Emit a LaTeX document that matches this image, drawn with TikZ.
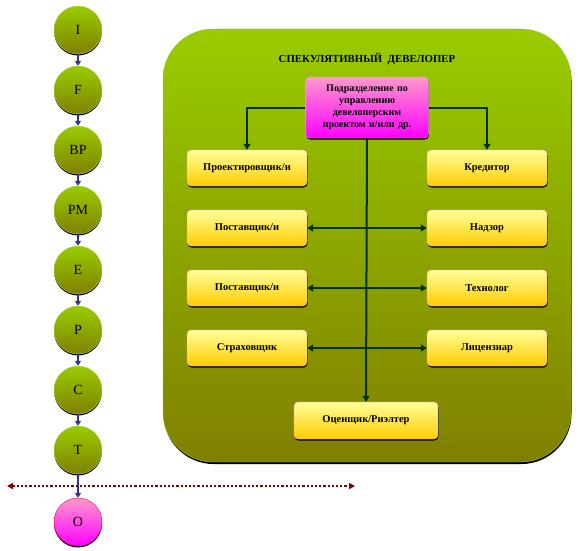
\documentclass[tikz,border=0pt]{standalone}
\usepackage{fontspec}
\setmainfont{Liberation Serif}
\usetikzlibrary{arrows.meta,shadows}
\definecolor{leaf}{HTML}{99CC00}
\definecolor{olive}{HTML}{808000}
\definecolor{rose}{HTML}{FF99CC}
\definecolor{lemon}{HTML}{FFFF99}
\definecolor{gold}{HTML}{FFCC00}
\definecolor{navyline}{HTML}{333380}
\definecolor{deepgreen}{HTML}{003300}
\definecolor{darkred}{HTML}{800000}
\tikzset{
	stage/.style={circle,minimum size=48pt,inner sep=0pt,draw=leaf!70!white,thin,
		top color=leaf,bottom color=olive,font=\fontsize{14}{16}\selectfont,
		drop shadow={shadow xshift=0pt,shadow yshift=-1.5pt,opacity=1,fill=black}},
	party/.style={rectangle,rounded corners=4pt,minimum width=120pt,minimum height=36pt,
		draw=rose,thin,top color=lemon,bottom color=gold,
		font=\fontsize{10.5}{12}\selectfont\bfseries,
		drop shadow={shadow xshift=0.5pt,shadow yshift=-1.5pt,opacity=1,fill=black}},
	stagelink/.style={navyline,line width=1.5pt,-{Triangle[length=5pt,width=6pt]}},
	link/.style={deepgreen,line width=2pt,-{Triangle[length=6pt,width=7pt]}},
	both/.style={deepgreen,line width=2pt,{Triangle[length=6pt,width=7pt]}-{Triangle[length=6pt,width=7pt]}},
}
\begin{document}
\begin{tikzpicture}[x=1pt,y=-1pt]
	\useasboundingbox (0,0) rectangle (581,551);
	% the developer's frame
	\draw[draw=leaf,thin,rounded corners=50pt,top color=leaf,bottom color=olive,
		drop shadow={shadow xshift=0.5pt,shadow yshift=-2pt,opacity=1,fill=black}]
		(163,29) rectangle (571,462);
	\node[font=\fontsize{10.8}{12}\selectfont\bfseries] (title) at (367,59) {СПЕКУЛЯТИВНЫЙ\ \ ДЕВЕЛОПЕР};
	\node[party,minimum width=120pt,minimum height=61pt,top color=rose,bottom color=magenta,
		text width=116pt,align=center,font=\fontsize{10}{12}\selectfont\bfseries] (dev) at (367,107.5)
		{Подразделение по\\управлению\\девелоперским\\проектом и/или др.};
	\node[party] (proj) at (247,168) {Проектировщик/и};
	\node[party] (sup1) at (247,228) {Поставщик/и};
	\node[party] (sup2) at (247,288) {Поставщик/и};
	\node[party] (insur) at (247,348) {Страховщик};
	\node[party] (cred) at (487,168) {Кредитор};
	\node[party] (audit) at (487,228) {Надзор};
	\node[party] (tech) at (487,288) {Технолог};
	\node[party] (licen) at (487,348) {Лицензиар};
	\node[party,minimum width=144pt,minimum height=37pt] (eval) at (366,420.5) {Оценщик/Риэлтер};
	\draw[link] (dev.west) -| (proj.north);
	\draw[link] (dev.east) -| (cred.north);
	\draw[link] (dev.south) -- (eval.north);
	\draw[both] (sup1.east) -- (audit.west);
	\draw[both] (sup2.east) -- (tech.west);
	\draw[both] (insur.east) -- (licen.west);
	% life cycle stages
	\foreach \name/\txt/\y in {I/I/30,F/F/90,BP/BP/150,PM/PM/210,E/E/270,P/P/330,C/C/390,T/T/450}
		\node[stage] (\name) at (78,\y) {\txt};
	\node[stage,top color=rose,bottom color=magenta,draw=red!70!magenta] (O) at (78,522) {O};
	\foreach \a/\b in {I/F,F/BP,BP/PM,PM/E,E/P,P/C,C/T,T/O}
		\draw[stagelink] (\a.south) -- (\b.north);
	\coordinate (cutL) at (7,486);
	\coordinate (cutR) at (355,486);
	\draw[darkred,line width=2.2pt,dotted,{Triangle[length=6pt,width=6pt]}-{Triangle[length=6pt,width=6pt]}] (cutL) -- (cutR);
\end{tikzpicture}
\end{document}
